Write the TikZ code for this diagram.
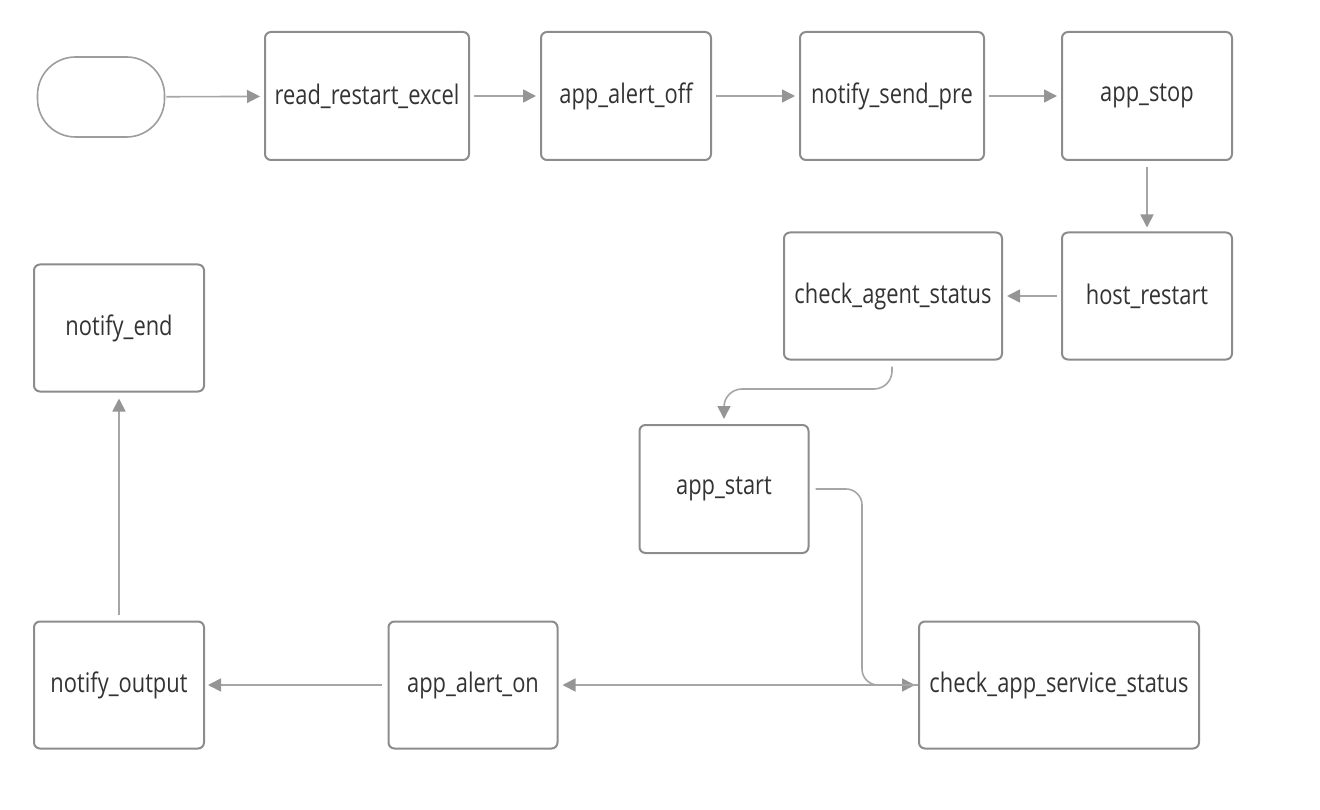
\documentclass[tikz,border=0pt]{standalone}
\usepackage{fontspec}
\setmainfont{Open Sans}[FakeStretch=0.81]
\usetikzlibrary{arrows.meta,calc}
\definecolor{boxc}{HTML}{8C8C8C}
\definecolor{linec}{HTML}{A6A6A6}
\definecolor{tipc}{HTML}{959595}
\tikzset{
  box/.style={draw=boxc, line width=2pt, rounded corners=6pt, align=center,
    font=\fontsize{27}{30}\selectfont, text=black!80, inner sep=0pt},
  pill/.style={draw=boxc!85, line width=1.6pt, rounded corners=38pt},
  arr/.style={draw=linec, line width=1.6pt, -{Triangle[length=13pt,width=13pt,fill=tipc,color=tipc]}},
}
\begin{document}
\begin{tikzpicture}[x=1pt,y=-1pt]
\useasboundingbox (0,0) rectangle (1320,810);
\node[pill, minimum width=127pt, minimum height=80pt] (st) at (101,97) {};
\node[box, minimum width=204pt, minimum height=128pt] (rre) at (367,96) {read\_restart\_excel};
\node[box, minimum width=170pt, minimum height=128pt] (aoff) at (626,96) {app\_alert\_off};
\node[box, minimum width=184pt, minimum height=128pt] (nsp) at (892,96) {notify\_send\_pre};
\node[box, minimum width=170pt, minimum height=128pt] (astop) at (1147,96) {app\_stop};
\node[box, minimum width=170pt, minimum height=127pt] (hr) at (1147,296) {host\_restart};
\node[box, minimum width=218pt, minimum height=127pt] (cas) at (893,296) {check\_agent\_status};
\node[box, minimum width=169pt, minimum height=128pt] (as) at (724,489) {app\_start};
\node[box, minimum width=280pt, minimum height=127pt] (cass) at (1059,685) {check\_app\_service\_status};
\node[box, minimum width=169pt, minimum height=127pt] (aon) at (473,685) {app\_alert\_on};
\node[box, minimum width=170pt, minimum height=127pt] (nout) at (119,685) {notify\_output};
\node[box, minimum width=170pt, minimum height=127pt] (nend) at (119,328) {notify\_end};
\coordinate (cx) at (862,0);

\draw[arr, shorten <=1pt, shorten >=4pt] (st) -- (rre);
\draw[arr, shorten <=4pt, shorten >=4pt] (rre) -- (aoff);
\draw[arr, shorten <=4pt, shorten >=4pt] (aoff) -- (nsp);
\draw[arr, shorten <=4pt, shorten >=4pt] (nsp) -- (astop);
\draw[arr, shorten <=6pt, shorten >=4pt] (astop) -- (hr);
\draw[arr, shorten <=4pt, shorten >=4pt] (hr) -- (cas);
\draw[arr, rounded corners=18pt, shorten <=6pt, shorten >=5pt] ([xshift=-1pt]cas.south) |- ([yshift=35pt]as.north) -- (as.north);
\draw[arr, rounded corners=16pt, shorten <=6pt, shorten >=3pt] (as.east) -- (as.east -| cx) |- (cass.west);
\draw[arr, shorten >=4pt] (cass.west) -- (aon.east);
\draw[arr, shorten <=6pt, shorten >=3pt] (aon.west) -- (nout.east);
\draw[arr, shorten <=6pt, shorten >=6pt] (nout.north) -- (nend.south);
\end{tikzpicture}
\end{document}
